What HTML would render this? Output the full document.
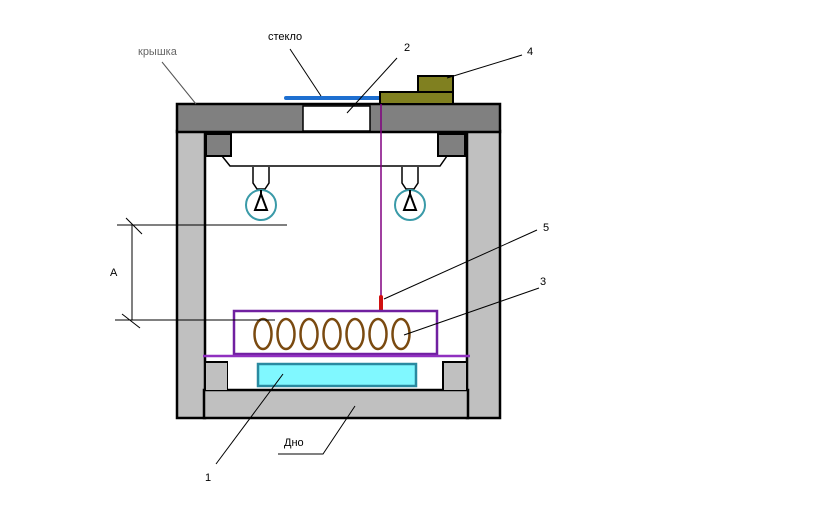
<!DOCTYPE html>
<html><head><meta charset="utf-8"><style>html,body{margin:0;padding:0;background:#fff}svg{display:block}</style></head>
<body>
<svg width="840" height="509" viewBox="0 0 840 509" xmlns="http://www.w3.org/2000/svg" font-family="Liberation Sans, sans-serif">
<rect width="840" height="509" fill="#fff"/>
<!-- walls -->
<rect x="177" y="131" width="28" height="287" fill="#c0c0c0" stroke="#000" stroke-width="2.5"/>
<rect x="467" y="131" width="33" height="287" fill="#c0c0c0" stroke="#000" stroke-width="2.5"/>
<rect x="204" y="390" width="264" height="28" fill="#c0c0c0" stroke="#000" stroke-width="2.5"/>
<!-- cover -->
<rect x="177" y="104" width="323" height="28" fill="#808080" stroke="#000" stroke-width="2.5"/>
<rect x="303" y="106" width="67" height="25" fill="#fff" stroke="#000" stroke-width="1.5"/>
<!-- glass -->
<line x1="286" y1="98" x2="383" y2="98" stroke="#1e6fd0" stroke-width="4" stroke-linecap="round"/>
<!-- olive block -->
<rect x="380" y="92" width="73" height="12" fill="#808020" stroke="#000" stroke-width="2"/>
<rect x="418" y="76" width="35" height="16" fill="#808020" stroke="#000" stroke-width="2"/>
<!-- top corner blocks -->
<rect x="206" y="134" width="25" height="22" fill="#808080" stroke="#000" stroke-width="2"/>
<rect x="438" y="134" width="27" height="22" fill="#808080" stroke="#000" stroke-width="2"/>
<polyline points="222,156 230,166 440,166 447,156" fill="none" stroke="#000" stroke-width="1.5"/>
<!-- sockets and bulbs -->
<path d="M253,167 V183 L257,189 H265 L269,183 V167" fill="#fff" stroke="#000" stroke-width="1.5"/>
<path d="M402,167 V183 L406,189 H414 L418,183 V167" fill="#fff" stroke="#000" stroke-width="1.5"/>
<circle cx="261" cy="205" r="15" fill="#fff" stroke="#3a9aa8" stroke-width="2"/>
<circle cx="410" cy="205" r="15" fill="#fff" stroke="#3a9aa8" stroke-width="2"/>
<path d="M261,194 L255,210 L267,210 Z M261,194 V190" fill="none" stroke="#000" stroke-width="2"/>
<path d="M410,194 L404,210 L416,210 Z M410,194 V190" fill="none" stroke="#000" stroke-width="2"/>
<!-- rod -->
<line x1="381" y1="104" x2="381" y2="300" stroke="#800080" stroke-width="1.5"/>
<line x1="381" y1="297" x2="381" y2="312" stroke="#d01010" stroke-width="4" stroke-linecap="round"/>
<!-- tray -->
<rect x="234" y="311" width="203" height="43" fill="#fff" stroke="#7020a0" stroke-width="2.5"/>
<line x1="203" y1="356" x2="470" y2="356" stroke="#9030c0" stroke-width="2.5"/>
<g fill="none" stroke="#7a4a10" stroke-width="2.5">
<ellipse cx="263" cy="334" rx="8.5" ry="15"/><ellipse cx="286" cy="334" rx="8.5" ry="15"/>
<ellipse cx="309" cy="334" rx="8.5" ry="15"/><ellipse cx="332" cy="334" rx="8.5" ry="15"/>
<ellipse cx="355" cy="334" rx="8.5" ry="15"/><ellipse cx="378" cy="334" rx="8.5" ry="15"/>
<ellipse cx="401" cy="334" rx="8.5" ry="15"/>
</g>
<!-- bottom blocks -->
<path d="M205,362 H227 V390" fill="#c0c0c0" stroke="#000" stroke-width="2"/>
<rect x="206" y="363" width="21" height="27" fill="#c0c0c0"/>
<path d="M467,362 H443 V390" fill="#c0c0c0" stroke="#000" stroke-width="2"/>
<rect x="444" y="363" width="22" height="27" fill="#c0c0c0"/>
<rect x="258" y="364" width="158" height="22" fill="#80f8ff" stroke="#2a8aa0" stroke-width="2.5"/>
<!-- dimensions -->
<g stroke="#000" stroke-width="1" fill="none">
<line x1="117" y1="225" x2="287" y2="225"/>
<line x1="115" y1="320" x2="275" y2="320"/>
<line x1="132" y1="225" x2="132" y2="320"/>
<line x1="126" y1="218" x2="142" y2="234"/>
<line x1="122" y1="314" x2="140" y2="328"/>
<!-- leaders -->
<line x1="162" y1="62" x2="196" y2="104" stroke="#555"/>
<line x1="290" y1="49" x2="321" y2="96"/>
<line x1="397" y1="58" x2="347" y2="113"/>
<line x1="522" y1="55" x2="447" y2="78"/>
<line x1="537" y1="230" x2="384" y2="299"/>
<line x1="539" y1="288" x2="404" y2="335"/>
<line x1="216" y1="464" x2="283" y2="374"/>
<polyline points="278,454 323,454 355,406"/>
</g>
<g font-size="11" fill="#000">
<text x="138" y="55" fill="#666">крышка</text>
<text x="268" y="40">стекло</text>
<text x="404" y="51">2</text>
<text x="527" y="55">4</text>
<text x="543" y="231">5</text>
<text x="540" y="285">3</text>
<text x="110" y="276">A</text>
<text x="284" y="446">Дно</text>
<text x="205" y="481">1</text>
</g>
</svg>
</body></html>
